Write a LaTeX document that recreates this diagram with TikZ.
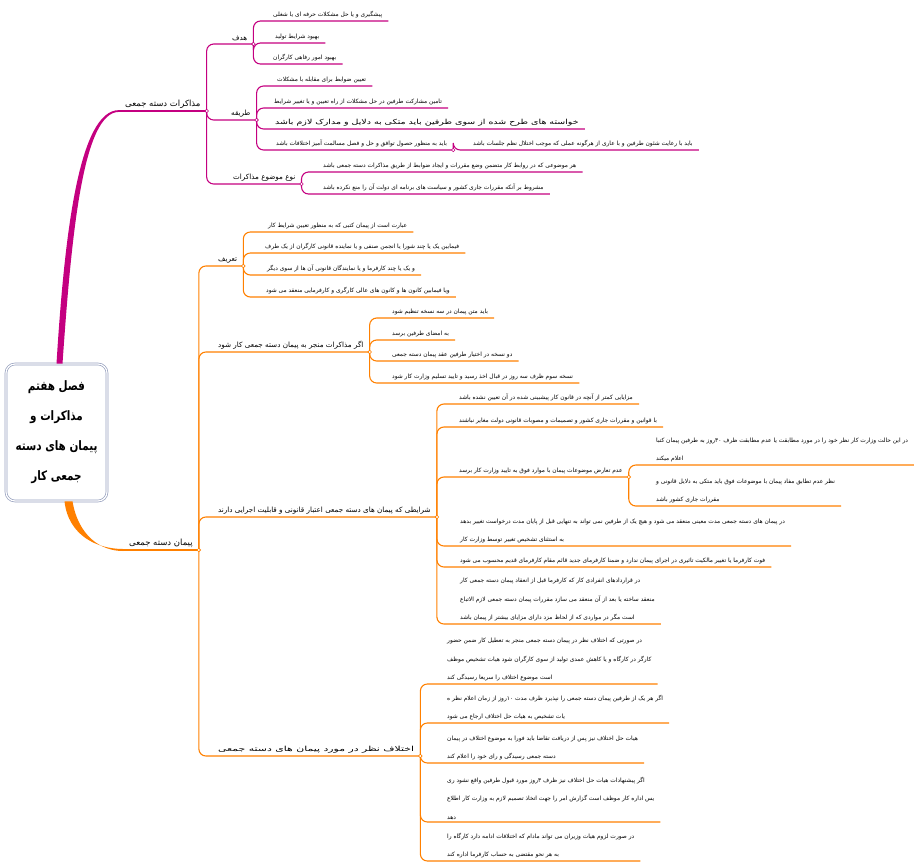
\documentclass[tikz,border=0pt]{standalone}
\usepackage{fontspec}
\setmainfont{DejaVu Sans}
\newfontfamily\persianfont[Script=Arabic]{DejaVu Sans}
\newfontfamily\persianbold[Script=Arabic,FakeStretch=0.8]{DejaVu Sans Bold}
\newfontfamily\persianwide[Script=Arabic,FakeStretch=1.35]{DejaVu Sans}
\newfontfamily\persianwider[Script=Arabic,FakeStretch=1.55]{DejaVu Sans}
\TeXXeTstate=1
\newcommand\rl[1]{\beginR#1\endR}
\definecolor{mindmag}{RGB}{196,0,128}
\definecolor{mindorange}{RGB}{255,128,0}
\definecolor{rootline}{RGB}{150,160,190}

\begin{document}
\begin{tikzpicture}[x=1pt,y=-1pt]
\tikzset{
  leaf/.style={anchor=south west,inner xsep=6pt,inner ysep=2.5pt,align=left,font=\persianfont\fontsize{5.9}{18.5}\selectfont},
  sublabel/.style={leaf,font=\persianfont\fontsize{7.2}{9}\selectfont},
  mainlabel/.style={leaf,font=\persianfont\fontsize{8.5}{10}\selectfont},
  widelabel/.style={leaf,font=\persianwide\fontsize{7}{9}\selectfont},
  widerlabel/.style={leaf,font=\persianwider\fontsize{7}{9}\selectfont},
  rootbox/.style={draw=rootline,double=white,double distance=1.2pt,line width=0.7pt,fill=white,rounded corners=9pt,minimum width=101pt,minimum height=137pt,align=center,font=\persianbold\fontsize{13}{30}\selectfont},
  magline/.style={draw=mindmag,line width=1.1pt,rounded corners=7pt},
  orline/.style={draw=mindorange,line width=1.1pt,rounded corners=7pt},
  magdot/.style={draw=mindmag,fill=white,line width=0.6pt},
  ordot/.style={draw=mindorange,fill=white,line width=0.6pt}
}
\useasboundingbox (0,0) rectangle (914,863);

\node[rootbox] (n_root) at (56.5,432.5) {\rl{فصل هفتم}\\\rl{مذاکرات و}\\\rl{پیمان های دسته}\\\rl{جمعی کار}};

\node[mainlabel] (n_m1) at (119,111) {\rl{مذاکرات دسته جمعی}};
\node[sublabel] (n_h) at (226,44) {\rl{هدف}};
\node[leaf] (n_h1) at (267,21) {\rl{پیشگیری و یا حل مشکلات حرفه ای یا شغلی}};
\node[leaf] (n_h2) at (269,43) {\rl{بهبود شرایط تولید}};
\node[leaf] (n_h3) at (267,64) {\rl{بهبود امور رفاهی کارگران}};
\node[sublabel] (n_t) at (225,120) {\rl{طریقه}};
\node[leaf] (n_t1) at (271,86) {\rl{تعیین ضوابط برای مقابله با مشکلات}};
\node[leaf] (n_t2) at (268,108) {\rl{تامین مشارکت طرفین در حل مشکلات از راه تعیین و یا تغییر شرایط}};
\node[widelabel] (n_t3) at (269,129) {\rl{خواسته های طرح شده از سوی طرفین باید متکی به دلایل و مدارک لازم باشد}};
\node[leaf] (n_t4) at (270,150) {\rl{باید به منظور حصول توافق و حل و فصل مسالمت آمیز اختلافات باشد}};
\node[leaf] (n_t41) at (467,150) {\rl{باید با رعایت شئون طرفین و با عاری از هرگونه عملی که موجب اختلال نظم جلسات باشد}};
\node[sublabel] (n_n) at (227,184) {\rl{نوع موضوع مذاکرات}};
\node[leaf] (n_n1) at (317,172) {\rl{هر موضوعی که در روابط کار متضمن وضع مقررات و ایجاد ضوابط از طریق مذاکرات دسته جمعی باشد}};
\node[leaf] (n_n2) at (317,194) {\rl{مشروط بر آنکه مقررات جاری کشور و سیاست های برنامه ای دولت آن را منع نکرده باشد}};

\node[mainlabel] (n_p) at (123,550) {\rl{پیمان دسته جمعی}};
\node[sublabel] (n_d) at (212,266) {\rl{تعریف}};
\node[leaf] (n_d1) at (262,232) {\rl{عبارت است از پیمان کتبی که به منظور تعیین شرایط کار}};
\node[leaf] (n_d2) at (259,253) {\rl{فیمابین یک یا چند شورا یا انجمن صنفی و یا نماینده قانونی کارگران از یک طرف}};
\node[leaf] (n_d3) at (261,275) {\rl{و یک یا چند کارفرما و یا نمایندگان قانونی آن ها از سوی دیگر}};
\node[leaf] (n_d4) at (260,297) {\rl{ویا فیمابین کانون ها و کانون های عالی کارگری و کارفرمایی منعقد می شود}};
\node[sublabel] (n_a) at (212,352) {\rl{اگر مذاکرات منجر به پیمان دسته جمعی کار شود}};
\node[leaf] (n_a1) at (386,318) {\rl{باید متن پیمان در سه نسخه تنظیم شود}};
\node[leaf] (n_a2) at (386,340) {\rl{به امضای طرفین برسد}};
\node[leaf] (n_a3) at (386,361) {\rl{دو نسخه در اختیار طرفین عقد پیمان دسته جمعی}};
\node[leaf] (n_a4) at (386,383) {\rl{نسخه سوم ظرف سه روز در قبال اخذ رسید و تایید تسلیم وزارت کار شود}};
\node[sublabel] (n_s) at (212,517) {\rl{شرایطی که پیمان های دسته جمعی اعتبار قانونی و قابلیت اجرایی دارند}};
\node[leaf] (n_s1) at (453,404) {\rl{مزایایی کمتر از آنچه در قانون کار پیشبینی شده در آن تعیین نشده باشد}};
\node[leaf] (n_s2) at (453,427) {\rl{با قوانین و مقررات جاری کشور و تصمیمات و مصوبات قانونی دولت مغایر نباشند}};
\node[leaf] (n_s3) at (453,477) {\rl{عدم تعارض موضوعات پیمان با موارد فوق به تایید وزارت کار برسد}};
\node[leaf] (n_s31) at (650,465) {\rl{در این حالت وزارت کار نظر خود را در مورد مطابقت یا عدم مطابقت ظرف ۳۰روز به طرفین پیمان کتبا}\\\rl{اعلام میکند}};
\node[leaf] (n_s32) at (650,506) {\rl{نظر عدم تطابق مفاد پیمان با موضوعات فوق باید متکی به دلایل قانونی و}\\\rl{مقررات جاری کشور باشد}};
\node[leaf] (n_s4) at (454,546) {\rl{در پیمان های دسته جمعی مدت معینی منعقد می شود و هیچ یک از طرفین نمی تواند به تنهایی قبل از پایان مدت درخواست تغییر بدهد}\\\rl{به استثنای تشخیص تغییر توسط وزارت کار}};
\node[leaf] (n_s5) at (454,567) {\rl{فوت کارفرما یا تغییر مالکیت تاثیری در اجرای پیمان ندارد و ضمنا کارفرمای جدید قائم مقام کارفرمای قدیم محسوب می شود}};
\node[leaf] (n_s6) at (454,624) {\rl{در قراردادهای انفرادی کار که کارفرما قبل از انعقاد پیمان دسته جمعی کار}\\\rl{منعقد ساخته یا بعد از آن منعقد می سازد مقررات پیمان دسته جمعی لازم الاتباع}\\\rl{است مگر در مواردی که از لحاظ مزد دارای مزایای بیشتر از پیمان باشد}};
\node[widerlabel] (n_e) at (212,756) {\rl{اختلاف نظر در مورد پیمان های دسته جمعی}};
\node[leaf] (n_e1) at (441,684) {\rl{در صورتی که اختلاف نظر در پیمان دسته جمعی منجر به تعطیل کار ضمن حضور}\\\rl{کارگر در کارگاه و یا کاهش عمدی تولید از سوی کارگران شود هیات تشخیص موظف}\\\rl{است موضوع اختلاف را سریعا رسیدگی کند}};
\node[leaf] (n_e2) at (441,723) {\rl{اگر هر یک از طرفین پیمان دسته جمعی را نپذیرد ظرف مدت ۱۰روز از زمان اعلام نظر ه}\\\rl{یات تشخیص به هیات حل اختلاف ارجاع می شود}};
\node[leaf] (n_e3) at (441,763) {\rl{هیات حل اختلاف نیز پس از دریافت تقاضا باید فورا به موضوع اختلاف در پیمان}\\\rl{دسته جمعی رسیدگی و رای خود را اعلام کند}};
\node[leaf] (n_e4) at (441,822) {\rl{اگر پیشنهادات هیات حل اختلاف نیز ظرف ۳روز مورد قبول طرفین واقع نشود ری}\\\rl{یس اداره کار موظف است گزارش امر را جهت اتخاذ تصمیم لازم به وزارت کار اطلاع}\\\rl{دهد}};
\node[leaf] (n_e5) at (441,861) {\rl{در صورت لزوم هیات وزیران می تواند مادام که اختلافات ادامه دارد کارگاه را}\\\rl{به هر نحو مقتضی به حساب کارفرما اداره کند}};

\fill[mindmag] ([xshift=0pt]n_root.north) .. controls +(8,-130) and +(-40,0) .. ([yshift=0.9pt]n_m1.south west) -- ([yshift=-0.9pt]n_m1.south west) .. controls +(-36,0) and +(9,-130) .. ([xshift=6pt]n_root.north) -- cycle;
\draw[magline,line width=1.8pt] (n_m1.south west) -- (n_m1.south east);
\draw[magline] (n_m1.south east) |- (n_h.south east);
\draw[magline] (n_m1.south east) |- (n_t.south east);
\draw[magline] (n_m1.south east) |- (n_n.south east);
\draw[magline] (n_h.south east) |- (n_h1.south east);
\draw[magline] (n_h.south east) |- (n_h2.south east);
\draw[magline] (n_h.south east) |- (n_h3.south east);
\draw[magline] (n_t.south east) |- (n_t1.south east);
\draw[magline] (n_t.south east) |- (n_t2.south east);
\draw[magline] (n_t.south east) |- (n_t3.south east);
\draw[magline] (n_t.south east) |- (n_t4.south east);
\draw[magline] (n_t4.south east) |- (n_t41.south east);
\draw[magline] (n_n.south east) |- (n_n1.south east);
\draw[magline] (n_n.south east) |- (n_n2.south east);

\fill[mindorange] ([xshift=8pt]n_root.south) .. controls +(4,35) and +(-25,0) .. ([yshift=1pt]n_p.south west) -- ([yshift=-1pt]n_p.south west) .. controls +(-22,0) and +(6,35) .. ([xshift=16pt]n_root.south) -- cycle;
\draw[orline,line width=1.8pt] (n_p.south west) -- (n_p.south east);
\draw[orline] (n_p.south east) |- (n_d.south east);
\draw[orline] (n_p.south east) |- (n_a.south east);
\draw[orline] (n_p.south east) |- (n_s.south east);
\draw[orline] (n_p.south east) |- (n_e.south east);
\draw[orline] (n_d.south east) |- (n_d1.south east);
\draw[orline] (n_d.south east) |- (n_d2.south east);
\draw[orline] (n_d.south east) |- (n_d3.south east);
\draw[orline] (n_d.south east) |- (n_d4.south east);
\draw[orline] (n_a.south east) |- (n_a1.south east);
\draw[orline] (n_a.south east) |- (n_a2.south east);
\draw[orline] (n_a.south east) |- (n_a3.south east);
\draw[orline] (n_a.south east) |- (n_a4.south east);
\draw[orline] (n_s.south east) |- (n_s1.south east);
\draw[orline] (n_s.south east) |- (n_s2.south east);
\draw[orline] (n_s.south east) |- (n_s3.south east);
\draw[orline] (n_s.south east) |- (n_s4.south east);
\draw[orline] (n_s.south east) |- (n_s5.south east);
\draw[orline] (n_s.south east) |- (n_s6.south east);
\draw[orline] (n_s3.south east) |- (n_s31.south east);
\draw[orline] (n_s3.south east) |- (n_s32.south east);
\draw[orline] (n_e.south east) |- (n_e1.south east);
\draw[orline] (n_e.south east) |- (n_e2.south east);
\draw[orline] (n_e.south east) |- (n_e3.south east);
\draw[orline] (n_e.south east) |- (n_e4.south east);
\draw[orline] (n_e.south east) |- (n_e5.south east);

\draw[magdot] (n_m1.south east) circle (1.8);
\draw[magdot] (n_h.south east) circle (1.8);
\draw[magdot] (n_t.south east) circle (1.8);
\draw[magdot] (n_n.south east) circle (1.8);
\draw[magdot] (n_t4.south east) circle (1.8);
\draw[ordot] (n_p.south east) circle (1.8);
\draw[ordot] (n_d.south east) circle (1.8);
\draw[ordot] (n_a.south east) circle (1.8);
\draw[ordot] (n_s.south east) circle (1.8);
\draw[ordot] (n_s3.south east) circle (1.8);
\draw[ordot] (n_e.south east) circle (1.8);
\end{tikzpicture}
\end{document}
